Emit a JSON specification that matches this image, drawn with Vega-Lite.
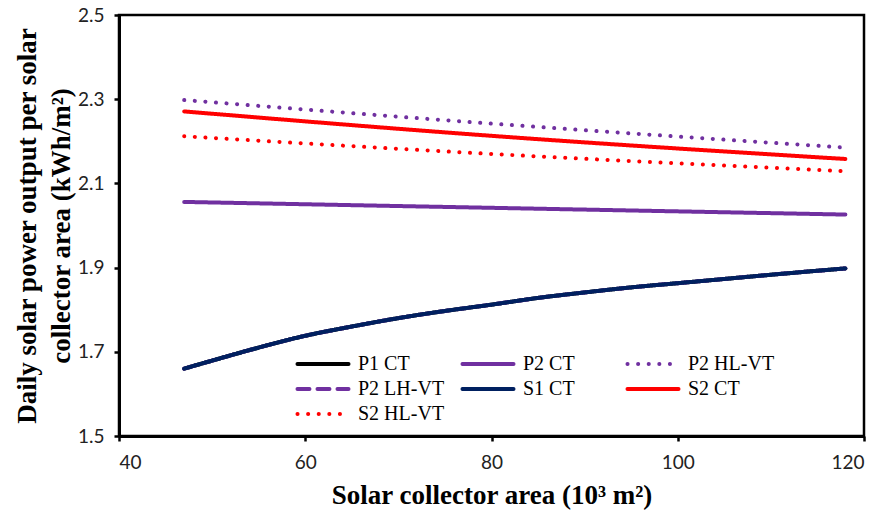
{
  "$schema": "https://vega.github.io/schema/vega-lite/v6.json",
  "width": 745,
  "height": 421,
  "autosize": "none",
  "padding": {"left": 119, "top": 15, "right": 19, "bottom": 85},
  "background": "white",
  "config": {
    "view": {"stroke": "black", "strokeWidth": 2.5},
    "axis": {"grid": false, "domainColor": "black", "domainWidth": 3, "tickColor": "black", "tickWidth": 2.5, "tickSize": 5,
      "labelFont": "Liberation Sans Narrow, Lato", "labelFontSize": 19, "labelColor": "#222", "titleFont": "Liberation Serif", "titleFontSize": 27, "titleFontWeight": "bold", "titleColor": "black"}
  },
  "data": {"values": [
    {"s": "P1 CT", "x": 47, "y": 1.660}, {"s": "P1 CT", "x": 50, "y": 1.679}, {"s": "P1 CT", "x": 55, "y": 1.710}, {"s": "P1 CT", "x": 60, "y": 1.738}, {"s": "P1 CT", "x": 65, "y": 1.760}, {"s": "P1 CT", "x": 70, "y": 1.780}, {"s": "P1 CT", "x": 75, "y": 1.797}, {"s": "P1 CT", "x": 80, "y": 1.812}, {"s": "P1 CT", "x": 85, "y": 1.828}, {"s": "P1 CT", "x": 90, "y": 1.841}, {"s": "P1 CT", "x": 95, "y": 1.853}, {"s": "P1 CT", "x": 100, "y": 1.863}, {"s": "P1 CT", "x": 105, "y": 1.873}, {"s": "P1 CT", "x": 110, "y": 1.883}, {"s": "P1 CT", "x": 118, "y": 1.898},
    {"s": "P2 CT", "x": 47, "y": 2.056}, {"s": "P2 CT", "x": 80, "y": 2.042}, {"s": "P2 CT", "x": 118, "y": 2.026},
    {"s": "P2 HL-VT", "x": 47, "y": 2.298}, {"s": "P2 HL-VT", "x": 80, "y": 2.242}, {"s": "P2 HL-VT", "x": 118, "y": 2.185},
    {"s": "P2 LH-VT", "x": 47, "y": 1.660}, {"s": "P2 LH-VT", "x": 50, "y": 1.679}, {"s": "P2 LH-VT", "x": 55, "y": 1.710}, {"s": "P2 LH-VT", "x": 60, "y": 1.738}, {"s": "P2 LH-VT", "x": 65, "y": 1.760}, {"s": "P2 LH-VT", "x": 70, "y": 1.780}, {"s": "P2 LH-VT", "x": 75, "y": 1.797}, {"s": "P2 LH-VT", "x": 80, "y": 1.812}, {"s": "P2 LH-VT", "x": 85, "y": 1.828}, {"s": "P2 LH-VT", "x": 90, "y": 1.841}, {"s": "P2 LH-VT", "x": 95, "y": 1.853}, {"s": "P2 LH-VT", "x": 100, "y": 1.863}, {"s": "P2 LH-VT", "x": 105, "y": 1.873}, {"s": "P2 LH-VT", "x": 110, "y": 1.883}, {"s": "P2 LH-VT", "x": 118, "y": 1.898},
    {"s": "S1 CT", "x": 47, "y": 1.660}, {"s": "S1 CT", "x": 50, "y": 1.679}, {"s": "S1 CT", "x": 55, "y": 1.710}, {"s": "S1 CT", "x": 60, "y": 1.738}, {"s": "S1 CT", "x": 65, "y": 1.760}, {"s": "S1 CT", "x": 70, "y": 1.780}, {"s": "S1 CT", "x": 75, "y": 1.797}, {"s": "S1 CT", "x": 80, "y": 1.812}, {"s": "S1 CT", "x": 85, "y": 1.828}, {"s": "S1 CT", "x": 90, "y": 1.841}, {"s": "S1 CT", "x": 95, "y": 1.853}, {"s": "S1 CT", "x": 100, "y": 1.863}, {"s": "S1 CT", "x": 105, "y": 1.873}, {"s": "S1 CT", "x": 110, "y": 1.883}, {"s": "S1 CT", "x": 118, "y": 1.898},
    {"s": "S2 CT", "x": 47, "y": 2.271}, {"s": "S2 CT", "x": 80, "y": 2.213}, {"s": "S2 CT", "x": 118, "y": 2.158},
    {"s": "S2 HL-VT", "x": 47, "y": 2.212}, {"s": "S2 HL-VT", "x": 80, "y": 2.170}, {"s": "S2 HL-VT", "x": 118, "y": 2.129}
  ]},
  "mark": {"type": "line", "strokeWidth": 4, "strokeCap": "round", "interpolate": "monotone"},
  "encoding": {
    "x": {"field": "x", "type": "quantitative", "scale": {"domain": [40, 120], "nice": false}, "axis": {"values": [40, 60, 80, 100, 120], "title": "Solar collector area (10³ m²)", "labelPadding": 12, "titlePadding": 10}},
    "y": {"field": "y", "type": "quantitative", "scale": {"domain": [1.5, 2.5], "nice": false}, "axis": {"values": [1.5, 1.7, 1.9, 2.1, 2.3, 2.5], "format": ".1f", "title": ["Daily solar power output per solar", "collector area (kWh/m²)"], "labelPadding": 10, "titlePadding": 2, "titleLineHeight": 34}},
    "color": {"field": "s", "type": "nominal", "title": null,
      "scale": {"domain": ["P1 CT", "P2 CT", "P2 HL-VT", "P2 LH-VT", "S1 CT", "S2 CT", "S2 HL-VT"], "range": ["#000000", "#7030A0", "#7030A0", "#7030A0", "#002060", "#FF0000", "#FF0000"]},
      "legend": {"orient": "none", "direction": "horizontal", "legendX": 191, "legendY": 336, "columns": 3, "gridAlign": "all", "columnPadding": 9, "rowPadding": 2, "symbolType": "M-2.32,0H2.32", "symbolSize": 484, "symbolStrokeWidth": 4, "labelFont": "Liberation Serif", "labelFontSize": 20, "labelColor": "black", "labelOffset": 22,
        "encode": {"symbols": {"update": {"strokeCap": {"value": "round"}}}}}},
    "strokeDash": {"field": "s", "type": "nominal", "title": null,
      "scale": {"domain": ["P1 CT", "P2 CT", "P2 HL-VT", "P2 LH-VT", "S1 CT", "S2 CT", "S2 HL-VT"], "range": [[1, 0], [1, 0], [0.1, 10.5], [12, 8], [1, 0], [1, 0], [0.1, 10.5]]}},
    "order": {"field": "x", "type": "quantitative"}
  }
}
